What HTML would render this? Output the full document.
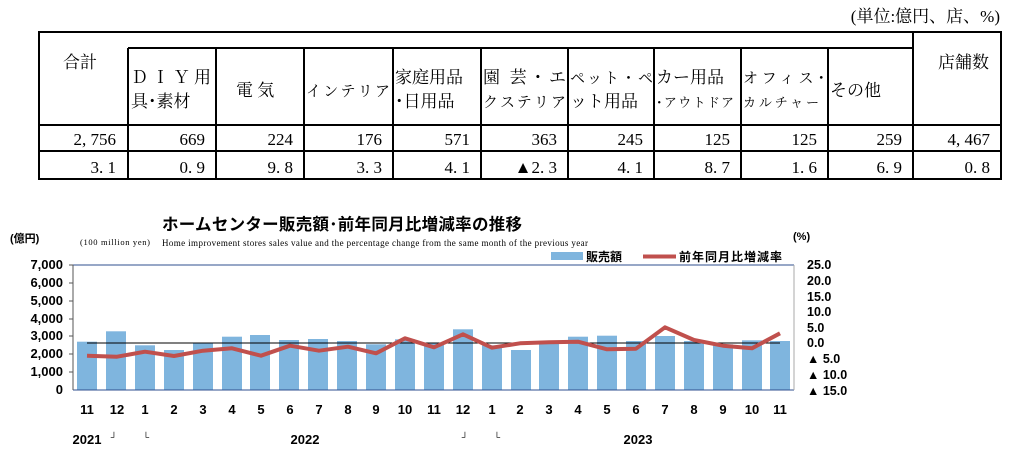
<!DOCTYPE html>
<html><head><meta charset="utf-8"><style>
body{margin:0;background:#fff;width:1036px;height:468px;overflow:hidden;position:relative;font-family:"Liberation Serif","Noto Serif CJK SC",serif}
</style></head><body>
<svg width="1036" height="468" style="position:absolute;left:0;top:0" font-family="Liberation Serif, Noto Serif CJK SC, serif">
<text x="1000" y="22" font-size="17" text-anchor="end">(単位:億円、店、%)</text>
<g stroke="#000" stroke-width="2" fill="none">
<rect x="39" y="32" width="962" height="147"/>
<line x1="128" y1="48" x2="913" y2="48"/>
<line x1="39" y1="125" x2="1001" y2="125"/>
<line x1="39" y1="151" x2="1001" y2="151"/>
<line x1="128" y1="48" x2="128" y2="179"/><line x1="216" y1="48" x2="216" y2="179"/>
<line x1="304" y1="48" x2="304" y2="179"/><line x1="393" y1="48" x2="393" y2="179"/>
<line x1="481" y1="48" x2="481" y2="179"/><line x1="568" y1="48" x2="568" y2="179"/>
<line x1="654" y1="48" x2="654" y2="179"/><line x1="741" y1="48" x2="741" y2="179"/>
<line x1="828" y1="48" x2="828" y2="179"/><line x1="913" y1="32" x2="913" y2="179"/>
</g>
<g font-size="17">
<text x="63" y="68">合計</text>
<text x="131" y="83" textLength="80">ＤＩＹ用</text><text x="131" y="107">具･素材</text>
<text x="236" y="96">電 気</text>
<text x="306" y="96" font-size="15" textLength="84">インテリア</text>
<text x="395" y="83">家庭用品</text><text x="395" y="107">･日用品</text>
<text x="483" y="83" textLength="83">園 芸・エ</text><text x="483" y="107" font-size="15" textLength="83">クステリア</text>
<text x="570" y="83" font-size="15" textLength="83">ペット・ペ</text><text x="570" y="107">ット用品</text>
<text x="656" y="83">カー用品</text><text x="656" y="107" font-size="13" textLength="78">･アウトドア</text>
<text x="743" y="83" font-size="15" textLength="82">オフィス･</text><text x="743" y="107" font-size="13" textLength="76">カルチャー</text>
<text x="830" y="96">その他</text>
<text x="938" y="68">店舗数</text>
</g>
<g font-size="17" text-anchor="end">
<text x="116" y="145">2, 756</text><text x="205" y="145">669</text><text x="293" y="145">224</text><text x="382" y="145">176</text><text x="470" y="145">571</text><text x="557" y="145">363</text><text x="643" y="145">245</text><text x="730" y="145">125</text><text x="817" y="145">125</text><text x="902" y="145">259</text><text x="990" y="145">4, 467</text>
<text x="116" y="173">3. 1</text><text x="205" y="173">0. 9</text><text x="293" y="173">9. 8</text><text x="382" y="173">3. 3</text><text x="470" y="173">4. 1</text><text x="557" y="173">▲2. 3</text><text x="643" y="173">4. 1</text><text x="730" y="173">8. 7</text><text x="817" y="173">1. 6</text><text x="902" y="173">6. 9</text><text x="990" y="173">0. 8</text>
</g>
<g font-family="Liberation Sans, Noto Sans CJK JP, sans-serif">
<text x="162" y="230" font-size="16.5" font-weight="bold" textLength="360">ホームセンター販売額･前年同月比増減率の推移</text>
<text x="10" y="242" font-size="11" font-weight="bold">(億円)</text>
<text x="793" y="240" font-size="11" font-weight="bold">(%)</text>
<rect x="551" y="252" width="32" height="8" fill="#7fb5de"/>
<text x="586" y="261" font-size="12" font-weight="bold">販売額</text>
<line x1="643" y1="256.5" x2="676" y2="256.5" stroke="#c0504d" stroke-width="4"/>
<text x="679" y="261" font-size="12" font-weight="bold" textLength="103">前年同月比増減率</text>
</g>
<text x="80" y="245" font-size="8.5" textLength="70">(100 million yen)</text>
<text x="162" y="246" font-size="9" textLength="426">Home improvement stores sales value and the percentage change from the same month of the previous year</text>
<g fill="#7fb5de">
<rect x="77" y="341.7" width="20" height="48.3"/><rect x="106" y="331.3" width="20" height="58.7"/><rect x="135" y="345.3" width="20" height="44.7"/><rect x="164" y="350" width="20" height="40"/><rect x="193" y="342.7" width="20" height="47.3"/><rect x="222" y="336.7" width="20" height="53.3"/><rect x="250" y="335" width="20" height="55"/><rect x="279" y="340" width="20" height="50"/><rect x="308" y="339" width="20" height="51"/><rect x="337" y="341" width="20" height="49"/><rect x="366" y="344.3" width="20" height="45.7"/><rect x="395" y="339.3" width="20" height="50.7"/><rect x="424" y="343.3" width="20" height="46.7"/><rect x="453" y="329.3" width="20" height="60.7"/><rect x="482" y="345.3" width="20" height="44.7"/><rect x="511" y="350" width="20" height="40"/><rect x="539" y="343.3" width="20" height="46.7"/><rect x="568" y="336.7" width="20" height="53.3"/><rect x="597" y="335.7" width="20" height="54.3"/><rect x="626" y="341" width="20" height="49"/><rect x="655" y="336" width="20" height="54"/><rect x="684" y="341" width="20" height="49"/><rect x="713" y="344.3" width="20" height="45.7"/><rect x="742" y="340.3" width="20" height="49.7"/><rect x="770" y="341" width="20" height="49"/>
</g>
<line x1="73" y1="265" x2="794" y2="265" stroke="#2f4f8f" stroke-width="1"/>
<line x1="73" y1="390" x2="794" y2="390" stroke="#2f4f8f" stroke-width="1"/>
<line x1="73" y1="265" x2="73" y2="390" stroke="#555" stroke-width="1"/>
<line x1="794" y1="265" x2="794" y2="390" stroke="#aaa" stroke-width="1"/>
<g stroke="#555"><line x1="69" y1="265" x2="73" y2="265"/><line x1="69" y1="283" x2="73" y2="283"/><line x1="69" y1="301" x2="73" y2="301"/><line x1="69" y1="319" x2="73" y2="319"/><line x1="69" y1="336" x2="73" y2="336"/><line x1="69" y1="354" x2="73" y2="354"/><line x1="69" y1="372" x2="73" y2="372"/></g>
<line x1="87" y1="343" x2="780" y2="343" stroke="#000" stroke-width="1"/>
<polyline fill="none" stroke="#c0504d" stroke-width="4" stroke-linejoin="round" points="87,355.7 117,356.7 145,351.7 174,356 203,350.7 232,348.3 261,355.7 290,345.7 319,350.7 348,346.7 376,353.3 405,338.3 434,347.3 463,334.3 492,347.7 520,343.3 549,342.3 578,341.7 607,349.3 636,348.7 665,327.3 694,340 723,345.7 752,348.3 780,333.3"/>
<g font-family="Liberation Sans, sans-serif" font-size="13" font-weight="bold" text-anchor="end">
<text x="63" y="269">7,000</text><text x="63" y="287">6,000</text><text x="63" y="305">5,000</text><text x="63" y="323">4,000</text><text x="63" y="340">3,000</text><text x="63" y="358">2,000</text><text x="63" y="376">1,000</text><text x="63" y="394">0</text>
</g>
<g font-family="Liberation Sans, sans-serif" font-size="12.5" font-weight="bold">
<text x="807" y="269">25.0</text><text x="807" y="285">20.0</text><text x="807" y="301">15.0</text><text x="807" y="316">10.0</text><text x="807" y="332">5.0</text><text x="807" y="347">0.0</text><text x="807" y="363">▲ 5.0</text><text x="807" y="379">▲ 10.0</text><text x="807" y="395">▲ 15.0</text>
</g>
<g font-family="Liberation Sans, sans-serif" font-size="13" font-weight="bold" text-anchor="middle">
<text x="87" y="414">11</text><text x="117" y="414">12</text><text x="145" y="414">1</text><text x="174" y="414">2</text><text x="203" y="414">3</text><text x="232" y="414">4</text><text x="261" y="414">5</text><text x="290" y="414">6</text><text x="319" y="414">7</text><text x="348" y="414">8</text><text x="376" y="414">9</text><text x="405" y="414">10</text><text x="434" y="414">11</text><text x="463" y="414">12</text><text x="492" y="414">1</text><text x="520" y="414">2</text><text x="549" y="414">3</text><text x="578" y="414">4</text><text x="607" y="414">5</text><text x="636" y="414">6</text><text x="665" y="414">7</text><text x="694" y="414">8</text><text x="723" y="414">9</text><text x="752" y="414">10</text><text x="780" y="414">11</text>
<text x="87" y="444">2021</text><text x="305" y="444">2022</text><text x="638" y="444">2023</text>
<text x="114" y="440" font-size="9">┘</text><text x="146" y="440" font-size="9">└</text><text x="465" y="440" font-size="9">┘</text><text x="497" y="440" font-size="9">└</text>
</g>
</svg>
</body></html>
